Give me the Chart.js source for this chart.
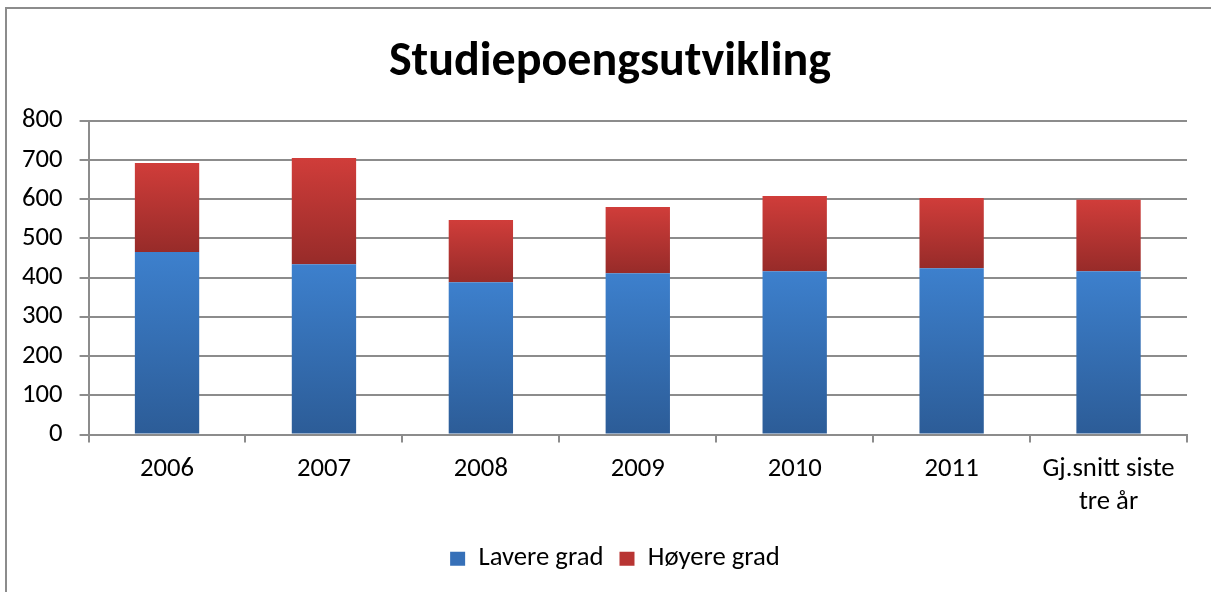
<!DOCTYPE html>
<html>
<head>
<meta charset="utf-8">
<script src="https://cdn.jsdelivr.net/npm/chart.js@4"></script>
<style>
  html, body { margin: 0; padding: 0; background: #fff; }
  #wrap { position: relative; width: 1211px; height: 592px; overflow: hidden; }
  #frame { position: absolute; left: 5px; top: 7px; width: 1220px; height: 600px;
           border-top: 2px solid #8c8c8c; border-left: 2px solid #8c8c8c; box-sizing: border-box; }
  canvas { position: absolute; left: 0; top: 0; }
</style>
</head>
<body>
<div id="wrap">
  <div id="frame"></div>
  <canvas id="c" width="1211" height="592"></canvas>
</div>
<script>
const categories = ["2006", "2007", "2008", "2009", "2010", "2011", ["Gj.snitt siste", "tre år"]];
const lavereGrad = [465, 434, 388, 411, 416, 424, 416];
const hoyereGrad = [227, 271, 159, 169, 192, 179, 182];
const seriesNames = ["Lavere grad", "Høyere grad"];
const titleText = "Studiepoengsutvikling";

const FONT = "Carlito, Lato, 'Open Sans', sans-serif";
const blueTop = "#3d80cd", blueBot = "#2c5c97";
const redTop = "#d03d3a", redBot = "#972b29";

function gradFill(top, bot, solid, lowerArr) {
  return function (ctx) {
    const chart = ctx.chart;
    if (!chart.chartArea || ctx.type !== "data") return solid;
    const y = chart.scales.y;
    const i = ctx.dataIndex;
    const start = lowerArr ? lowerArr[i] : 0;
    const end = start + ctx.dataset.data[i];
    const yTop = y.getPixelForValue(end);
    const yBot = y.getPixelForValue(start);
    if (!isFinite(yTop) || !isFinite(yBot) || yTop === yBot) return solid;
    const g = chart.ctx.createLinearGradient(0, yTop, 0, yBot);
    g.addColorStop(0, top);
    g.addColorStop(1, bot);
    return g;
  };
}

const blockShift = {
  id: "blockShift",
  afterLayout(chart) {
    if (chart.legend) { chart.legend.left += 19; chart.legend.right += 19; }
    if (chart.titleBlock) { chart.titleBlock.left += 14; chart.titleBlock.right += 14; }
  }
};

new Chart(document.getElementById("c"), {
  type: "bar",
  data: {
    labels: categories,
    datasets: [
      { label: seriesNames[0], data: lavereGrad, backgroundColor: gradFill(blueTop, blueBot, "#3670b8", null) },
      { label: seriesNames[1], data: hoyereGrad, backgroundColor: gradFill(redTop, redBot, "#b83533", lavereGrad) }
    ]
  },
  plugins: [blockShift],
  options: {
    responsive: false,
    animation: false,
    devicePixelRatio: 1,
    datasets: { bar: { barPercentage: 1, categoryPercentage: 0.41 } },
    layout: { padding: { left: 5, right: 24, top: 0, bottom: 10 } },
    plugins: {
      title: {
        display: true, text: titleText, color: "#000",
        font: { family: FONT, size: 48, weight: "bold" },
        padding: { top: 34, bottom: 29 }
      },
      legend: {
        position: "bottom",
        labels: {
          color: "#000",
          font: { family: FONT, size: 26.7 },
          boxWidth: 15, boxHeight: 14, padding: 16,
          generateLabels: function (chart) {
            return chart.data.datasets.map((ds, i) => ({
              text: ds.label,
              fillStyle: i === 0 ? "#3670b8" : "#b83533",
              strokeStyle: "rgba(0,0,0,0)",
              lineWidth: 0,
              datasetIndex: i,
              hidden: false
            }));
          }
        }
      },
      tooltip: { enabled: false }
    },
    scales: {
      x: {
        stacked: true,
        grid: { display: true, drawOnChartArea: false, offset: true, tickLength: 8, color: "#8c8c8c", lineWidth: 2 },
        border: { display: true, color: "#8c8c8c", width: 2 },
        ticks: { color: "#000", font: { family: FONT, size: 26.7, lineHeight: 1.25 }, padding: 10, maxRotation: 0, autoSkip: false }
      },
      y: {
        stacked: true,
        min: 0, max: 800,
        grid: { color: "#8c8c8c", lineWidth: 2, tickLength: 9 },
        border: { display: true, color: "#8c8c8c", width: 2 },
        ticks: { stepSize: 100, color: "#000", font: { family: FONT, size: 26.7 }, padding: 17 }
      }
    }
  }
});
</script>
</body>
</html>
